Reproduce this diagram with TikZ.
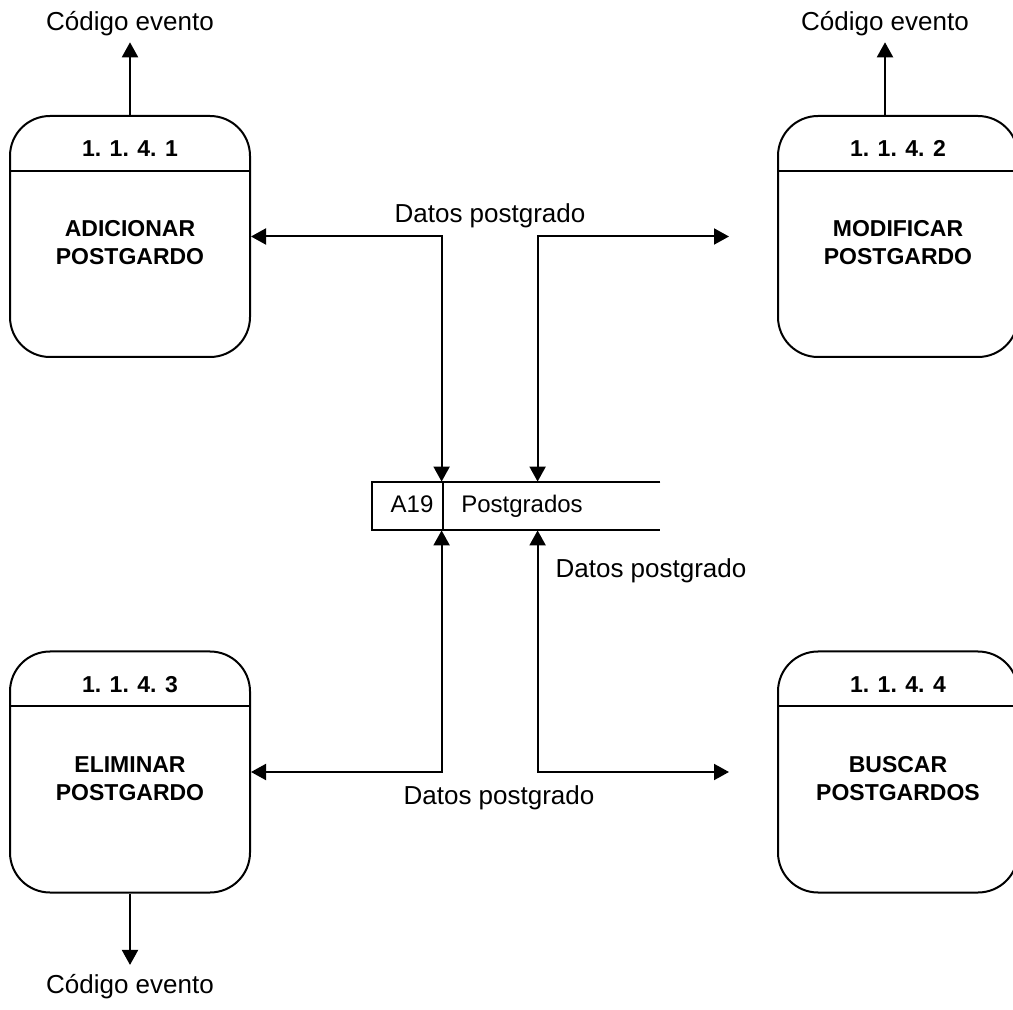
\documentclass[tikz,border=0pt]{standalone}
\usepackage{fontspec}
\setmainfont{Liberation Sans}
\usetikzlibrary{positioning,calc,arrows.meta}

\tikzset{
	proceso/.style={draw, line width=1pt, rounded corners=20pt, minimum width=120pt, minimum height=120.5pt, inner sep=0pt},
	numero/.style={font=\bfseries\fontsize{11.5}{14}\selectfont, inner sep=0pt},
	nombre/.style={font=\bfseries\fontsize{11.5}{14}\selectfont, align=center, inner sep=0pt},
	etiqueta/.style={font=\fontsize{13}{15}\selectfont, inner sep=0pt},
	almtexto/.style={font=\fontsize{12}{14}\selectfont, inner sep=0pt},
	flujo/.style={line width=1pt, {Triangle[length=7.5pt,width=8pt]}-{Triangle[length=7.5pt,width=8pt]}},
	salida/.style={line width=1pt, -{Triangle[length=7.5pt,width=8pt]}},
}

\begin{document}
	\begin{tikzpicture}[x=0.5pt,y=-0.5pt]
		\useasboundingbox (0,0) rectangle (1013,1010);
		%
		\node[proceso] (p1) at (130,236.5) {};
		\node[proceso] (p2) at (898,236.5) {};
		\node[proceso] (p3) at (130,772) {};
		\node[proceso] (p4) at (898,772) {};
		\foreach \p/\num/\nom in {p1/1/{ADICIONAR\\POSTGARDO}, p2/2/{MODIFICAR\\POSTGARDO}, p3/3/{ELIMINAR\\POSTGARDO}, p4/4/{BUSCAR\\POSTGARDOS}} {
			\draw[line width=1pt] ($(\p.north west)+(0,-28pt)$) -- ($(\p.north east)+(0,-28pt)$);
			\node[numero, anchor=base] (\p n) at ($(\p.north)+(0,-21pt)$) {1. 1. 4. \num};
			\node[nombre] (\p t) at ($(\p.north)+(0,-64pt)$) {\nom};
		}
		%
		\node[minimum width=144pt, minimum height=24pt, inner sep=0pt] (alm) at (516,506) {};
		\draw[line width=1pt] (alm.north east) -- (alm.north west) -- (alm.south west) -- (alm.south east);
		\draw[line width=1pt] ($(alm.north west)+(35.5pt,0)$) -- ($(alm.south west)+(35.5pt,0)$);
		\node[almtexto, anchor=base] (a19) at (412,513) {A19};
		\node[almtexto, anchor=base] (post) at (522,513) {Postgrados};
		%
		\coordinate[left=24pt of p2.west] (m2);
		\coordinate[left=24pt of p4.west] (m4);
		\draw[flujo] (p1.east) -| ($(alm.north west)+(35pt,0)$);
		\draw[flujo] ($(alm.north west)+(83pt,0)$) |- (m2);
		\draw[flujo] (p3.east) -| ($(alm.south west)+(35pt,0)$);
		\draw[flujo] ($(alm.south west)+(83pt,0)$) |- (m4);
		\node[etiqueta, anchor=base] (d1) at (490,223) {Datos postgrado};
		\node[etiqueta, anchor=base] (d2) at (651,578) {Datos postgrado};
		\node[etiqueta, anchor=base] (d3) at (499,805) {Datos postgrado};
		%
		\node[etiqueta, anchor=base] (c1) at (130,31) {Código evento};
		\node[etiqueta, anchor=base] (c2) at (885,31) {Código evento};
		\node[etiqueta, anchor=base] (c3) at (130,993) {Código evento};
		\draw[salida, shorten >=2.75pt] (p1.north) -- (c1.south);
		\draw[salida, shorten >=2.75pt] (c2.south |- p2.north) -- (c2.south);
		\draw[salida, shorten >=4.25pt] (p3.south) -- (c3.north);
	\end{tikzpicture}
\end{document}
